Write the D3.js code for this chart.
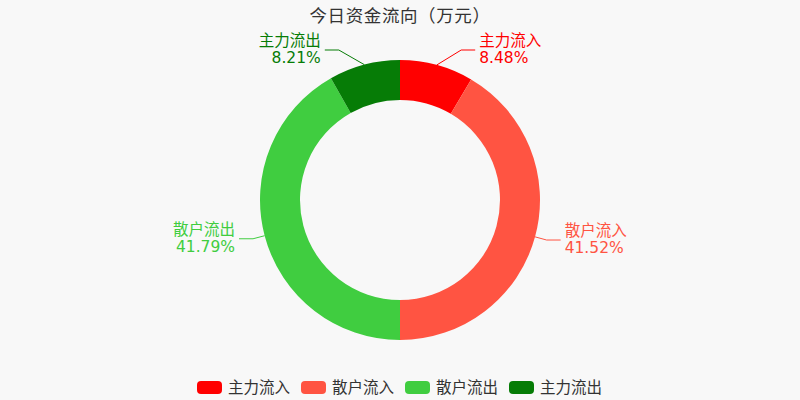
<!DOCTYPE html>
<html>
<head>
<meta charset="utf-8">
<script src="https://cdn.jsdelivr.net/npm/d3@7"></script>
<style>
  html, body { margin: 0; padding: 0; background: #f8f8f8; }
  text { font-family: "DejaVu Sans", "Noto Sans CJK SC", sans-serif; }
</style>
</head>
<body>
<div id="chart"></div>
<script>
// chart data
let categories = ["主力流入", "散户流入", "散户流出", "主力流出"];
let percents = [8.48, 41.52, 41.79, 8.21];
let colors = ["#ff0000", "#ff5442", "#40cd40", "#067c06"];
let title = "今日资金流向（万元）";

window.onload = function() {
    let width = 800, height = 400;
    let cx = 400, cy = 200;
    let outerR = 140, innerR = 100;

    let svg = d3.select("#chart").append("svg")
        .attr("width", width)
        .attr("height", height);

    svg.append("rect").attr("width", width).attr("height", height).attr("fill", "#f8f8f8");

    // title
    svg.append("text")
        .attr("x", cx).attr("y", 14)
        .attr("text-anchor", "middle")
        .attr("dominant-baseline", "central")
        .attr("font-size", 17.5)
        .style("font-family", '"Noto Sans CJK SC", sans-serif')
        .style("letter-spacing", "0.6px")
        .attr("fill", "#333")
        .text(title);

    let data = categories.map((c, i) => ({name: c, value: percents[i], color: colors[i]}));

    let pie = d3.pie().sort(null).value(d => d.value);
    let arc = d3.arc().innerRadius(innerR).outerRadius(outerR);
    let arcs = pie(data);

    let g = svg.append("g").attr("transform", "translate(" + cx + "," + cy + ")");

    g.selectAll("path.slice")
        .data(arcs)
        .enter().append("path")
        .attr("class", "slice")
        .attr("d", arc)
        .attr("fill", d => d.data.color);

    // labels with guide lines
    let topY = 50 - cy;   // labels near the top get pushed up to this line
    let bendR = 152, bendRShifted = 162, len2 = 14;
    arcs.forEach(function(d) {
        let a = (d.startAngle + d.endAngle) / 2;
        let s = Math.sin(a), c = Math.cos(a);
        let p0 = [outerR * s, -outerR * c];
        let p1 = [bendR * s, -bendR * c];
        if (p1[1] < -120) {
            let y = topY;
            let x = Math.sqrt(bendRShifted * bendRShifted - y * y);
            p1 = [s >= 0 ? x : -x, y];
        }
        let right = s >= 0;
        let p2 = [p1[0] + (right ? len2 : -len2), p1[1]];

        g.append("polyline")
            .attr("points", [p0, p1, p2].map(p => p.join(",")).join(" "))
            .attr("fill", "none")
            .attr("stroke", d.data.color)
            .attr("stroke-width", 1);

        let tx = p2[0] + (right ? 4 : -4);
        let t = g.append("text")
            .attr("text-anchor", right ? "start" : "end")
            .attr("font-size", 15.5)
            .attr("fill", d.data.color);
        t.append("tspan")
            .attr("x", tx)
            .attr("y", p2[1] - 4)
            .text(d.data.name);
        t.append("tspan")
            .attr("x", tx)
            .attr("y", p2[1] + 13)
            .text(d.data.value.toFixed(2) + "%");
    });

    // legend
    let legend = svg.append("g").attr("transform", "translate(197,381)");
    let item = legend.selectAll("g.item")
        .data(data)
        .enter().append("g")
        .attr("class", "item")
        .attr("transform", (d, i) => "translate(" + (i * 104) + ",0)");
    item.append("rect")
        .attr("width", 25).attr("height", 13)
        .attr("rx", 4).attr("ry", 4)
        .attr("fill", d => d.color);
    item.append("text")
        .attr("x", 31).attr("y", 7)
        .attr("dominant-baseline", "central")
        .attr("font-size", 15.5)
        .attr("fill", "#333")
        .text(d => d.name);
}
</script>
</body>
</html>
